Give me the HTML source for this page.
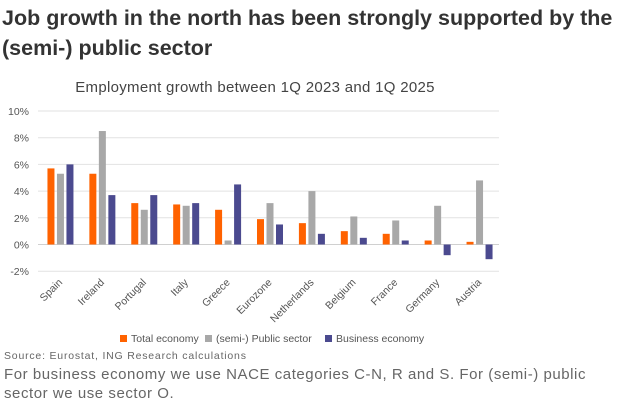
<!DOCTYPE html>
<html><head><meta charset="utf-8"><style>
body{margin:0;width:624px;height:416px;background:#fff;font-family:"Liberation Sans",sans-serif;overflow:hidden;position:relative}
.t{position:absolute;left:2px;top:3px;font-size:21.5px;font-weight:bold;color:#333;line-height:30px;white-space:nowrap}
.s{position:absolute;left:0;width:510px;text-align:center;top:79px;font-size:15px;color:#444;letter-spacing:0.3px}
.src{position:absolute;left:4px;top:350px;font-size:10.5px;color:#666;letter-spacing:0.8px}
.fn{position:absolute;left:4px;top:365px;font-size:15px;color:#666;line-height:19px;letter-spacing:0.55px;white-space:nowrap}
</style></head><body>
<div class="t">Job growth in the north has been strongly supported by the<br>(semi-) public sector</div>
<div class="s">Employment growth between 1Q 2023 and 1Q 2025</div>
<svg id="c" width="624" height="416" style="position:absolute;left:0;top:0"></svg>
<div class="src">Source: Eurostat, ING Research calculations</div>
<div class="fn">For business economy we use NACE categories C-N, R and S. For (semi-) public<br>sector we use sector O.</div>
<script>
const categories=["Spain","Ireland","Portugal","Italy","Greece","Eurozone","Netherlands","Belgium","France","Germany","Austria"];
const totalEconomy=[5.7,5.3,3.1,3.0,2.6,1.9,1.6,1.0,0.8,0.3,0.2];
const publicSector=[5.3,8.5,2.6,2.9,0.3,3.1,4.0,2.1,1.8,2.9,4.8];
const businessEconomy=[6.0,3.7,3.7,3.1,4.5,1.5,0.8,0.5,0.3,-0.8,-1.1];
const ticks=[-2,0,2,4,6,8,10];
const seriesNames=["Total economy","(semi-) Public sector","Business economy"];
const colors=["#ff6200","#a8a8a8","#4b4a8f"];
const svg=document.getElementById('c');const NS="http://www.w3.org/2000/svg";
const x0=38,x1=499,yTop=111,yZero=244.5;
const y=v=>yZero-(v/10)*(yZero-yTop);
const bw=(x1-x0)/categories.length;
function mk(t,a){const e=document.createElementNS(NS,t);for(const k in a)e.setAttribute(k,a[k]);svg.appendChild(e);return e;}
ticks.forEach(t=>{const g=mk('line',{x1:x0,x2:x1,y1:y(t),y2:y(t),stroke:t===0?'#d0d0d0':'#e2e2e2','stroke-width':1});

const l=mk('text',{x:29,y:y(t)+4,'text-anchor':'end','font-size':10.5,fill:'#555'});l.textContent=t+'%';
});
const series=[totalEconomy,publicSector,businessEconomy];
categories.forEach((c,i)=>{const cx=x0+bw*(i+0.5);
series.forEach((s,j)=>{const v=s[i];const bx=cx-11.5+j*9.5;const r=mk('rect',{x:bx,y:Math.min(y(v),yZero),width:7,height:Math.abs(y(v)-yZero),fill:colors[j]});
});
const l=mk('text',{x:0,y:0,'text-anchor':'end','font-size':10.5,fill:'#555',transform:`translate(${cx+4},${283}) rotate(-45)`});l.textContent=c;
});
const lx=[120,205,325];
seriesNames.forEach((n,j)=>{const r=mk('rect',{x:lx[j],y:335,width:7,height:7,fill:colors[j]});

const t=mk('text',{x:lx[j]+11,y:342,'font-size':10.5,fill:'#555'});t.textContent=n;
});
</script>
</body></html>
